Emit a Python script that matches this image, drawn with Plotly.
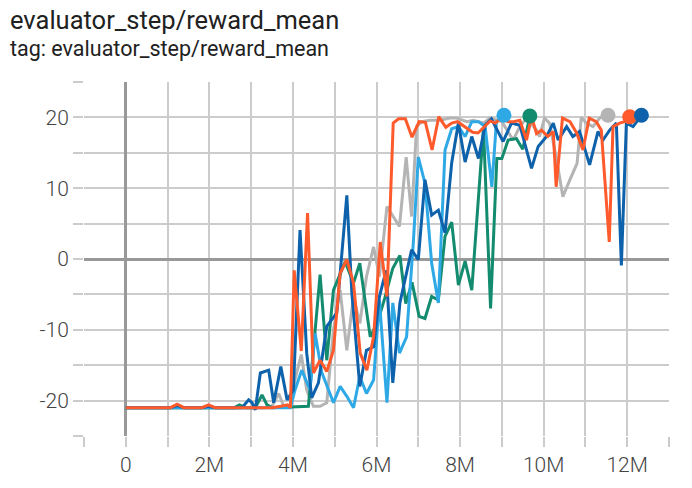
import plotly.graph_objects as go

# steps in millions, values = reward_mean
orange_x = [0, 1.07, 1.23, 1.39, 1.82, 1.98, 2.14, 3.5, 3.71, 3.87, 3.94, 4.03, 4.2, 4.35, 4.49, 4.65, 4.81, 4.97,
            5.13, 5.29, 5.45, 5.61, 5.77, 5.93, 6.09, 6.25, 6.4, 6.53, 6.69, 6.85, 7.02, 7.17, 7.33, 7.49, 7.66,
            7.8, 7.94, 8.14, 8.3, 8.43, 8.58, 8.72, 8.84, 9.0, 9.15, 9.28, 9.43, 9.59, 9.71, 9.83, 9.95, 10.1,
            10.23, 10.3, 10.45, 10.63, 10.79, 10.94, 11.09, 11.26, 11.38, 11.57, 11.66, 11.82, 11.94, 12.06]
orange_y = [-21, -21, -20.5, -21, -21, -20.6, -21, -21, -20.8, -20.6, -21, -1.6, -13, 6.5, -16.1, -14.3, -15.9, -12.9,
            -2, -0.1, -3.4, -13.3, -15.7, -11, 2.4, -5.3, 19.2, 19.8, 19.8, 17.2, 19.4, 19.3, 15.4, 20.1, 18.6,
            19.2, 19.4, 18.6, 17.9, 17.8, 18.7, 19.5, 19.2, 19.9, 19.4, 19.4, 19.6, 16.8, 20.1, 17.7, 18.2, 17.3,
            18.0, 10.2, 19.9, 19.4, 17.8, 15.4, 19.9, 19.4, 18.2, 2.4, 18.7, 19.2, 19.4, 20.1]

blue_x = [0, 1.07, 1.23, 1.39, 1.82, 1.98, 2.14, 2.78, 2.94, 3.02, 3.1, 3.22, 3.42, 3.54, 3.71, 3.86, 4.01, 4.17,
          4.33, 4.45, 4.61, 4.81, 5.05, 5.29, 5.41, 5.6, 5.76, 5.93, 6.07, 6.23, 6.39, 6.56, 6.84, 7.0, 7.16,
          7.32, 7.48, 7.64, 7.8, 7.96, 8.12, 8.28, 8.44, 8.6, 8.75, 9.03, 9.23, 9.43, 9.71, 9.87, 10.07, 10.23,
          10.35, 10.55, 10.7, 10.86, 11.1, 11.3, 11.42, 11.58, 11.74, 11.86, 11.98, 12.14, 12.34]
blue_y = [-21, -21, -20.7, -21, -21, -20.8, -21, -21, -19.9, -20.3, -21.3, -16.1, -15.7, -20.3, -15.2, -19.9, -18.5, 4.1,
          -13.3, -19.6, -17.5, -9.5, -7.6, 9.0, -4.8, -18, -12.9, -12.4, -5.3, -1.6, -17.5, -6.2, 1.3, -0.1, 11.2,
          6.2, 6.9, 3.7, 13.6, 19.2, 13.7, 17.3, 14.2, 18.9, 19.8, 16.6, 19.2, 18.9, 12.8, 15.9, 17.3, 19.2,
          16.8, 18.7, 17.3, 18.0, 13.3, 18.0, 16.8, 18.2, 19.2, -0.9, 19.2, 18.7, 20.3]

lightblue_x = [0, 3.94, 4.05, 4.21, 4.41, 4.53, 4.69, 4.85, 4.97, 5.13, 5.29, 5.45, 5.6, 5.76, 5.93, 6.07, 6.25,
               6.39, 6.55, 6.72, 6.88, 7.0, 7.16, 7.32, 7.48, 7.64, 7.8, 7.96, 8.12, 8.28, 8.44, 8.6, 8.76, 8.87, 9.05]
lightblue_y = [-21, -21, -18.5, -15.7, -18.5, -10.5, -16, -18.5, -20.3, -18, -19.4, -21, -16.6, -19, -17.1, -5.8, -20.3,
               -6.2, -13.3, -11, 2.2, 14.4, 10.7, -0.6, -6.2, 15.4, 18.4, 18.7, 17.3, 19.4, 19.4, 18.7, 10.2, 19.4, 20.3]

green_x = [0, 2.6, 2.72, 2.86, 3.1, 3.26, 3.38, 3.5, 4.37, 4.65, 4.81, 4.97, 5.25, 5.45, 5.6, 5.85, 6.02, 6.2, 6.39,
           6.56, 6.7, 6.85, 7.02, 7.16, 7.32, 7.48, 7.64, 7.8, 7.96, 8.12, 8.28, 8.44, 8.56, 8.73, 8.88, 9.0, 9.15,
           9.35, 9.5, 9.67]
green_y = [-21, -21, -20.6, -21, -21, -19.2, -20.6, -21, -20.8, -2.2, -14.3, -4.4, -0.4, -3.4, -0.6, -11, -9, -5.5, -1.3,
           0.5, -6.3, -3.3, -8.1, -8.4, -5.3, -5.8, 3.2, 5.2, -3.7, -0.3, -4.4, 8.3, 18.5, -7, 14.2, 14.2, 16.8,
           17, 15.5, 20.2]

grey_x = [0, 3.3, 3.5, 3.66, 3.78, 3.94, 4.05, 4.2, 4.33, 4.49, 4.65, 4.81, 4.97, 5.13, 5.29, 5.45, 5.6, 5.76, 5.93,
          6.07, 6.25, 6.39, 6.55, 6.71, 6.84, 6.96, 7.08, 7.28, 7.52, 7.76, 7.92, 8.16, 8.32, 8.56, 8.71, 9.0, 9.27,
          9.43, 9.59, 9.83, 9.9, 10.02, 10.14, 10.3, 10.46, 10.63, 10.8, 10.9, 11.02, 11.18, 11.34, 11.54]
grey_y = [-21, -21, -20.8, -19, -20.8, -20.8, -17, -13.5, -18.5, -20.8, -20.8, -20.3, -10, -4.4, -12.9, -5.3, -9.1, -2.5, 1.7,
          -2.5, 7.4, 6, 4.6, 14.4, 6, 18.7, 19.4, 19.6, 19.6, 19.9, 19.9, 19.4, 19.6, 19.2, 19.9, 19.4, 16.8,
          18.7, 19.9, 18.2, 17.3, 19.9, 19.2, 14.4, 8.8, 11.2, 13.5, 20.0, 19.2, 18.7, 19.9, 20.3]

series = [
    ("grey", grey_x, grey_y, "#b4b4b4"),
    ("green", green_x, green_y, "#138b6e"),
    ("lightblue", lightblue_x, lightblue_y, "#2fa9e6"),
    ("blue", blue_x, blue_y, "#0d62ab"),
    ("orange", orange_x, orange_y, "#ff5a2c"),
]
marker_order = ["grey", "green", "lightblue", "orange", "blue"]

x_tickvals = list(range(-1, 14))
x_ticktext = ["", "0", "", "2M", "", "4M", "", "6M", "", "8M", "", "10M", "", "12M", ""]
y_tickvals = [-25, -20, -15, -10, -5, 0, 5, 10, 15, 20, 25]
y_ticktext = ["", "-20", "", "-10", "", "0", "", "10", "", "20", ""]

fig = go.Figure()
for name, xs, ys, col in series:
    fig.add_trace(go.Scatter(x=xs, y=ys, mode="lines", name=name,
                             line=dict(color=col, width=3), showlegend=False))
lookup = {s[0]: s for s in series}
for name in marker_order:
    _, xs, ys, col = lookup[name]
    fig.add_trace(go.Scatter(x=[xs[-1]], y=[ys[-1]], mode="markers", name=name,
                             marker=dict(color=col, size=15), showlegend=False))

grid = "#cccccc"
tickfont = dict(family="Roboto", size=21, color="#444444", weight=300)
fig.update_layout(
    width=692, height=488,
    margin=dict(l=84, r=23, t=82, b=52),
    paper_bgcolor="white", plot_bgcolor="white",
    xaxis=dict(range=[-1, 13], tickmode="array", tickvals=x_tickvals, ticktext=x_ticktext,
               showgrid=True, gridcolor=grid, gridwidth=1.5, automargin=False,
               zeroline=True, zerolinecolor="#999999", zerolinewidth=2.5,
               ticks="outside", ticklen=10, tickcolor=grid, tickwidth=1.5,
               showline=False, tickfont=tickfont),
    yaxis=dict(range=[-25, 25], tickmode="array", tickvals=y_tickvals, ticktext=y_ticktext,
               showgrid=True, gridcolor=grid, gridwidth=1.5, automargin=False,
               zeroline=True, zerolinecolor="#999999", zerolinewidth=2.5,
               ticks="outside", ticklen=10, tickcolor=grid, tickwidth=1.5,
               showline=False, tickfont=tickfont),
    annotations=[
        dict(text="evaluator_step/reward_mean", xref="paper", yref="paper", x=-76 / 585, y=1.1745,
             xanchor="left", yanchor="middle", showarrow=False,
             font=dict(family="Roboto", size=25.5, color="#212121")),
        dict(text="tag: evaluator_step/reward_mean", xref="paper", yref="paper", x=-76 / 585, y=1.0945,
             xanchor="left", yanchor="middle", showarrow=False,
             font=dict(family="Roboto", size=21.5, color="#212121")),
    ],
)
fig.write_html("out.html", config={"displayModeBar": False},
               post_script="document.body.style.margin='0';document.body.style.padding='0';")
